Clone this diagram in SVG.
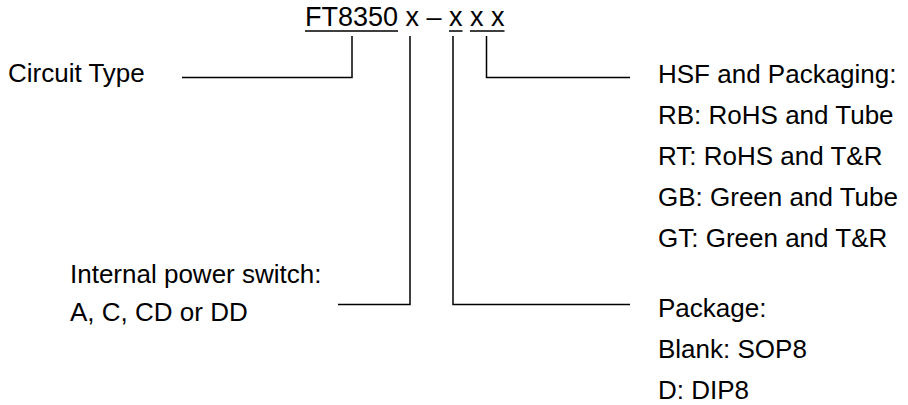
<svg xmlns="http://www.w3.org/2000/svg" width="908" height="405" viewBox="0 0 908 405">
<style>
text{font-family:"Liberation Sans",Arial,sans-serif;font-size:26px;fill:#000}
.t{font-size:27px}
.c{fill:none;stroke:#000;stroke-width:1.5}
</style>
<rect width="908" height="405" fill="#fff"/>
<g id="title">
<text class="t" x="305" y="26">FT8350 x – x x x</text>
</g>
<g id="circuit-type"><text x="8" y="82">Circuit Type</text></g>
<g id="power-switch"><text x="70" y="283">Internal power switch:</text><text x="70" y="321">A, C, CD or DD</text></g>
<g id="hsf"><text x="658" y="83">HSF and Packaging:</text><text x="658" y="123.5">RB: RoHS and Tube</text><text x="658" y="164.5">RT: RoHS and T&amp;R</text><text x="658" y="205.5">GB: Green and Tube</text><text x="658" y="246.5">GT: Green and T&amp;R</text></g>
<g id="package"><text x="658" y="317">Package:</text><text x="658" y="358">Blank: SOP8</text><text x="658" y="399">D: DIP8</text></g>
<g id="connectors" class="c">
<path d="M305 31H398M449 31H462.5M470 31H504.5"/>
<path d="M182 77.5H352V36"/>
<path d="M338 304.5H410V36"/>
<path d="M453 36V304.5H630"/>
<path d="M486.5 36V77.5H630"/>
</g>
</svg>
